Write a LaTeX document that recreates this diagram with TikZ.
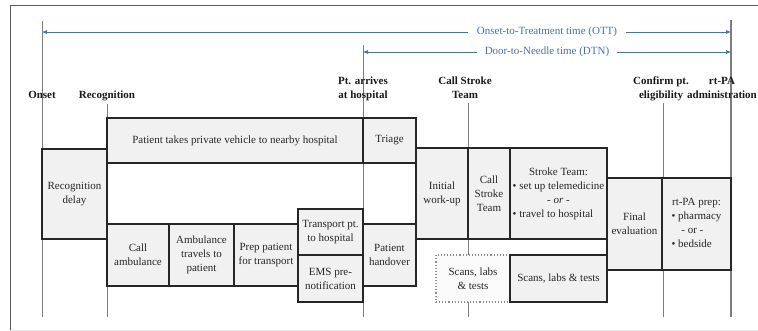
\documentclass[tikz,border=0pt]{standalone}
\usepackage{fontspec}
\setmainfont{Liberation Serif}
\usetikzlibrary{arrows.meta}

\definecolor{dtnblue}{RGB}{68,114,176}
\definecolor{boxgray}{RGB}{241,241,241}
\definecolor{milegray}{RGB}{125,125,125}
\definecolor{framegray}{RGB}{90,90,90}

\tikzset{
  phase/.style={draw=black!85, line width=1.1pt, fill=boxgray, anchor=north west,
    inner sep=1pt, outer sep=0pt, align=center, text=black!85,
    font=\fontsize{11}{14}\selectfont},
  milestone/.style={milegray, line width=0.9pt},
  mlabel/.style={font=\fontsize{11}{14}\selectfont\bfseries, align=center,
    inner sep=0pt, anchor=base, text=black!90},
  timespan/.style={dtnblue, line width=0.6pt,
    {Latex[length=5pt,width=4pt]}-{Latex[length=5pt,width=4pt]}},
  spanlabel/.style={fill=white, text=dtnblue, font=\fontsize{11}{14}\selectfont,
    inner xsep=8pt, inner ysep=1pt}
}

\begin{document}
\begin{tikzpicture}[x=1pt, y=-1pt]
  \useasboundingbox (0,0) rectangle (758,331);

  % frame
  \draw[framegray, line width=1pt] (10,331) -- (10,6) -- (758,6);
  \draw[black!10, line width=0.8pt] (10,330) -- (758,330);

  % milestone end points
  \coordinate (onsetT) at (42,21);      \coordinate (onsetB) at (42,317);
  \coordinate (recogT) at (107,104);    \coordinate (recogB) at (107,317);
  \coordinate (arriveT) at (363,45);    \coordinate (arriveB) at (363,317);
  \coordinate (callT) at (468,103);     \coordinate (callB) at (468,317);
  \coordinate (confirmT) at (663,103);  \coordinate (confirmB) at (663,317);
  \coordinate (rtpaT) at (731,20);      \coordinate (rtpaB) at (731,317);

  % milestone lines
  \draw[milestone] (onsetT) -- (onsetB);
  \draw[milestone] (recogT) -- (recogB);
  \draw[milestone] (arriveT) -- (arriveB);
  \draw[milestone] (callT) -- (callB);
  \draw[milestone] (confirmT) -- (confirmB);
  \draw[milestone, line width=1.8pt] (rtpaT) -- (rtpaB);

  % milestone labels (base = last line)
  \node[mlabel] (onset) at (42,99) {Onset};
  \node[mlabel] (recog) at (107,99) {Recognition};
  \node[mlabel] (arrive) at (363,99) {Pt. arrives\\at hospital};
  \node[mlabel] (callteam) at (465,99) {Call Stroke\\Team};
  \node[mlabel] (confirm) at (661,99) {Confirm pt.\\eligibility};
  \node[mlabel] (rtpa) at (722,99) {rt-PA\\administration};

  % time spans
  \coordinate (ottL) at (42,32);   \coordinate (ottR) at (731,32);
  \coordinate (dtnL) at (363,52);  \coordinate (dtnR) at (731,52);
  \draw[timespan] (ottL) -- (ottR)
    node[spanlabel, pos=0.733, inner xsep=9pt] (ott) {Onset-to-Treatment time (OTT)};
  \draw[timespan] (dtnL) -- (dtnR)
    node[spanlabel, pos=0.5] (dtn) {Door-to-Needle time (DTN)};

  % pre-hospital
  \node[phase, minimum width=65pt, minimum height=90pt] (delay) at (42,149) {Recognition\\delay};
  \node[phase, minimum width=256pt, minimum height=45pt] (vehicle) at (107,118)
    {Patient takes private vehicle to nearby hospital};
  \node[phase, minimum width=62pt, minimum height=62pt] (callamb) at (107,224) {Call\\ambulance};
  \node[phase, minimum width=65pt, minimum height=62pt] (ambtravel) at (169,224) {Ambulance\\travels to\\patient};
  \node[phase, minimum width=64pt, minimum height=62pt] (prep) at (234,224) {Prep patient\\for transport};
  \node[phase, minimum width=65pt, minimum height=46pt] (transport) at (298,209) {Transport pt.\\to hospital};
  \node[phase, minimum width=65pt, minimum height=47pt] (ems) at (298,255) {EMS pre-\\notification};

  % in hospital
  \node[phase, minimum width=53pt, minimum height=45pt] (triage) at (363,118) {Triage};
  \node[phase, minimum width=53pt, minimum height=62pt] (handover) at (363,224) {Patient\\handover};
  \node[phase, minimum width=52pt, minimum height=91pt] (workup) at (416,148) {Initial\\work-up};
  \node[phase, minimum width=42pt, minimum height=91pt] (callbox) at (468,148) {Call\\Stroke\\Team};
  \node[phase, minimum width=97pt, minimum height=91pt] (team) at (510,148)
    {\begin{tabular}{@{}l@{}}
      \multicolumn{1}{@{}c@{}}{Stroke Team:}\\
      • set up telemedicine\\
      \multicolumn{1}{@{}c@{}}{- \textit{or} -}\\
      • travel to hospital
    \end{tabular}};
  \node[phase, minimum width=74pt, minimum height=47pt, draw=black!45, dotted,
    fill=black!2] (scansA) at (436,255) {Scans, labs\\\& tests};
  \node[phase, minimum width=97pt, minimum height=47pt] (scansB) at (510,255) {Scans, labs \& tests};
  \node[phase, minimum width=55pt, minimum height=92pt] (final) at (607,178) {Final\\evaluation};
  \node[phase, minimum width=69pt, minimum height=92pt] (prepdrug) at (662,178)
    {\begin{tabular}{@{}l@{}}
      \multicolumn{1}{@{}c@{}}{rt-PA prep:}\\
      • pharmacy\\
      \hspace{0.9em}- or -\\
      • bedside
    \end{tabular}};
\end{tikzpicture}
\end{document}
